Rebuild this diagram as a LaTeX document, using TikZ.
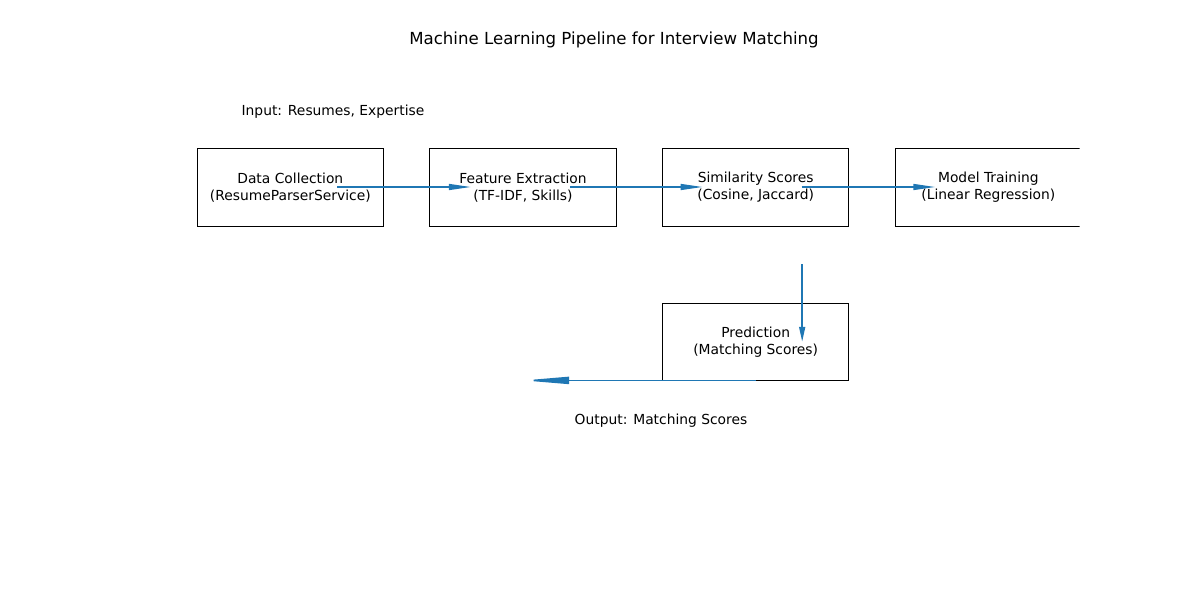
\documentclass[tikz,border=0pt]{standalone}
\usepackage{fontspec}
\setmainfont{DejaVu Sans}
\usetikzlibrary{arrows.meta,positioning,calc}
\definecolor{mplblue}{HTML}{1F77B4}

\begin{document}
\begin{tikzpicture}[
    x=0.254mm, y=-0.254mm,
    node distance=11.8mm,
    box/.style={rectangle, draw, line width=0.8pt, outer sep=0pt, minimum width=47.3mm, minimum height=19.6mm, inner sep=0pt, align=center, font=\fontsize{10}{12.2}\selectfont},
    txt/.style={font=\fontsize{10}{12}\selectfont},
    arrow/.style={mplblue, line width=1.2pt, -{Triangle[length=5.6mm, width=1.5mm]}}
]
    \useasboundingbox (0,0) rectangle (1200,600);

    \node[font=\fontsize{12}{14}\selectfont] (title) at (614,40) {Machine Learning Pipeline for Interview Matching};
    \node[txt] (input) at (333,112) {Input: Resumes, Expertise};

    \node[box] (collect) at (290.3,187.5) {Data Collection\\(ResumeParserService)};
    \node[box, right=of collect] (extract) {Feature Extraction\\(TF-IDF, Skills)};
    \node[box, right=of extract] (simil) {Similarity Scores\\(Cosine, Jaccard)};
    \begin{scope}
        \clip (0,0) rectangle (1079.6,600);
        \node[box, right=of simil] (train) {Model Training\\(Linear Regression)};
    \end{scope}
    \node[box, below=19.6mm of simil] (predict) {Prediction\\(Matching Scores)};

    \node[txt] (output) at (661,421) {Output: Matching Scores};

    \draw[arrow] ($(collect.center)+(47,-0.5)$) -- ($(extract.center)+(-52,-0.5)$);
    \draw[arrow] ($(extract.center)+(47,-0.5)$) -- ($(simil.center)+(-53,-0.5)$);
    \draw[arrow] ($(simil.center)+(46,-0.5)$) -- ($(train.center)+(-53,-0.5)$);
    \draw[arrow, line width=1.3pt, -{Triangle[length=3.8mm, width=1.5mm]}] ($(simil.center)+(46.5,76.5)$) -- ($(predict.center)+(46.5,0)$);
    \draw[arrow, -{Triangle[length=11.7mm, width=1.8mm]}] (predict.south) -- (extract.center |- predict.south);
\end{tikzpicture}
\end{document}
